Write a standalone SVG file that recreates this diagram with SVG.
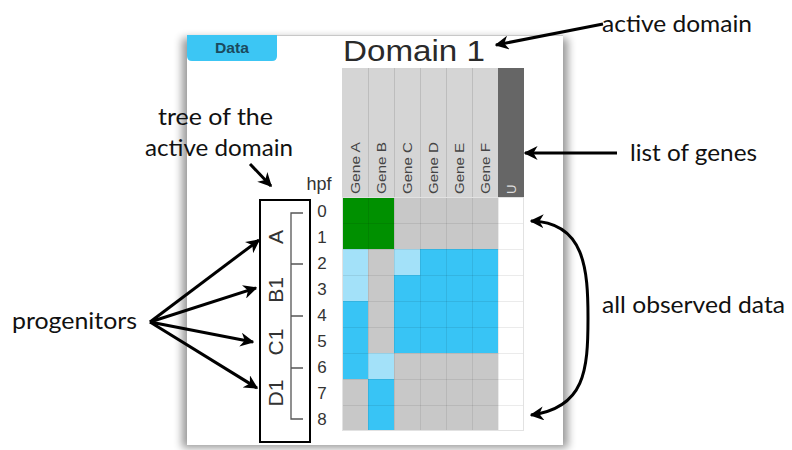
<svg xmlns="http://www.w3.org/2000/svg" width="792" height="450" viewBox="0 0 792 450">
<defs>
<filter id="sh" x="-10%" y="-10%" width="120%" height="120%"><feGaussianBlur stdDeviation="4"/></filter>
<marker id="ah2" viewBox="0 0 10 10" refX="9" refY="5" markerWidth="14" markerHeight="14" orient="auto-start-reverse" markerUnits="userSpaceOnUse"><path d="M0,0 L10,5 L0,10 L3,5 z" fill="#000"/></marker>
</defs>
<style>
.ann{font-family:Lato,"Open Sans",sans-serif;font-size:23px;fill:#111}
.gene{font-family:"Liberation Sans",Arial,sans-serif;font-size:13px;fill:#444}
.num{font-family:"Liberation Sans",Arial,sans-serif;font-size:17px;fill:#333;text-anchor:middle}
.tl{font-family:"Liberation Sans",Arial,sans-serif;font-size:21px;fill:#333;text-anchor:middle}
.g{fill:#c8c8c8}.gr{fill:#009000}.lb{fill:#a3e1f9}.b{fill:#38c4f5}.w{fill:#fff}
.cn{fill:none;stroke:#000;stroke-width:3;marker-end:url(#ah2)}
</style>
<rect width="792" height="450" fill="#fff"/>
<g id="panel">
<rect x="182" y="38" width="386" height="410" fill="#000" opacity="0.4" filter="url(#sh)"/>
<rect x="187" y="35" width="376" height="410" fill="#fff"/>
<line x1="187" y1="35.5" x2="563" y2="35.5" stroke="#c8c8c8" stroke-width="1"/>
</g>
<g id="data-button">
<path d="M187,35 H277 V56 Q277,61 272,61 H192 Q187,61 187,56 Z" fill="#3cc6f4"/>
<text x="232" y="53" font-family="'Liberation Sans',Arial,sans-serif" font-size="14" font-weight="bold" fill="#1b4a5e" text-anchor="middle" textLength="34" lengthAdjust="spacingAndGlyphs">Data</text>
</g>
<g id="title"><text x="343" y="61" font-family="'Liberation Sans',Arial,sans-serif" font-size="29" fill="#2a2a2a" textLength="142" lengthAdjust="spacingAndGlyphs">Domain 1</text></g>
<g id="header">
<rect x="342" y="68" width="156" height="129" fill="#d5d5d5"/>
<rect x="498" y="68" width="26" height="129" fill="#666"/>
<g stroke="#bdbdbd" stroke-width="1"><line x1="368.5" y1="68" x2="368.5" y2="197"/><line x1="394.5" y1="68" x2="394.5" y2="197"/><line x1="420.5" y1="68" x2="420.5" y2="197"/><line x1="446.5" y1="68" x2="446.5" y2="197"/><line x1="472.5" y1="68" x2="472.5" y2="197"/></g>
<text class="gene" transform="translate(360,194) rotate(-90)" textLength="52" lengthAdjust="spacingAndGlyphs">Gene A</text>
<text class="gene" transform="translate(386,194) rotate(-90)" textLength="52" lengthAdjust="spacingAndGlyphs">Gene B</text>
<text class="gene" transform="translate(412,194) rotate(-90)" textLength="52" lengthAdjust="spacingAndGlyphs">Gene C</text>
<text class="gene" transform="translate(438,194) rotate(-90)" textLength="52" lengthAdjust="spacingAndGlyphs">Gene D</text>
<text class="gene" transform="translate(464,194) rotate(-90)" textLength="51" lengthAdjust="spacingAndGlyphs">Gene E</text>
<text class="gene" transform="translate(490,194) rotate(-90)" textLength="51" lengthAdjust="spacingAndGlyphs">Gene F</text>
<text class="gene" transform="translate(516,194) rotate(-90)" style="fill:#ddd">U</text>
</g>
<g id="grid">
<rect x="342" y="197" width="182" height="234" class="g"/>
<rect x="342" y="197" width="52" height="52" class="gr"/>
<rect x="342" y="249" width="26" height="52" class="lb"/>
<rect x="394" y="249" width="26" height="26" class="lb"/>
<rect x="420" y="249" width="78" height="26" class="b"/>
<rect x="394" y="275" width="104" height="78" class="b"/>
<rect x="342" y="301" width="26" height="78" class="b"/>
<rect x="368" y="353" width="26" height="26" class="lb"/>
<rect x="368" y="379" width="26" height="52" class="b"/>
<rect x="498" y="197" width="26" height="234" class="w"/>
<g stroke="#000" stroke-opacity="0.08" stroke-width="1">
<line x1="368.5" y1="197" x2="368.5" y2="431"/><line x1="394.5" y1="197" x2="394.5" y2="431"/><line x1="420.5" y1="197" x2="420.5" y2="431"/><line x1="446.5" y1="197" x2="446.5" y2="431"/><line x1="472.5" y1="197" x2="472.5" y2="431"/><line x1="498.5" y1="197" x2="498.5" y2="431"/>
<line x1="342" y1="223.5" x2="524" y2="223.5"/><line x1="342" y1="249.5" x2="524" y2="249.5"/><line x1="342" y1="275.5" x2="524" y2="275.5"/><line x1="342" y1="301.5" x2="524" y2="301.5"/><line x1="342" y1="327.5" x2="524" y2="327.5"/><line x1="342" y1="353.5" x2="524" y2="353.5"/><line x1="342" y1="379.5" x2="524" y2="379.5"/><line x1="342" y1="405.5" x2="524" y2="405.5"/>
</g>
<rect x="342.5" y="197.5" width="181" height="233" fill="none" stroke="#e2e2e2"/>
</g>
<g id="hours">
<text x="319" y="190" font-family="'Liberation Sans',Arial,sans-serif" font-size="18" fill="#333" text-anchor="middle">hpf</text>
<text class="num" x="322" y="217">0</text><text class="num" x="322" y="243">1</text><text class="num" x="322" y="269">2</text><text class="num" x="322" y="295">3</text><text class="num" x="322" y="321">4</text><text class="num" x="322" y="347">5</text><text class="num" x="322" y="373">6</text><text class="num" x="322" y="399">7</text><text class="num" x="322" y="425">8</text>
</g>
<g id="tree">
<rect x="260" y="200" width="50" height="242" fill="none" stroke="#000" stroke-width="2"/>
<path d="M303,213 H291 V419 H303 M291,264 H303 M291,316 H303 M291,368 H303" fill="none" stroke="#555" stroke-width="1.3"/>
<text class="tl" transform="translate(283,237) rotate(-90)">A</text>
<text class="tl" transform="translate(283,290) rotate(-90)">B1</text>
<text class="tl" transform="translate(283,342) rotate(-90)">C1</text>
<text class="tl" transform="translate(283,393) rotate(-90)">D1</text>
</g>
<g id="labels">
<text class="ann" x="12" y="329" textLength="125" lengthAdjust="spacingAndGlyphs">progenitors</text>
<text class="ann" x="158" y="125" textLength="115" lengthAdjust="spacingAndGlyphs">tree of the</text>
<text class="ann" x="145" y="156" textLength="148" lengthAdjust="spacingAndGlyphs">active domain</text>
<text class="ann" x="602" y="32" textLength="150" lengthAdjust="spacingAndGlyphs">active domain</text>
<text class="ann" x="630" y="161" textLength="127" lengthAdjust="spacingAndGlyphs">list of genes</text>
<text class="ann" x="602" y="313" textLength="183" lengthAdjust="spacingAndGlyphs">all observed data</text>
</g>
<g id="connectors">
<line class="cn" x1="150" y1="322" x2="259" y2="240"/>
<line class="cn" x1="150" y1="322" x2="256" y2="288"/>
<line class="cn" x1="150" y1="322" x2="253" y2="342"/>
<line class="cn" x1="150" y1="322" x2="257" y2="388"/>
<line class="cn" x1="250" y1="164" x2="271" y2="186"/>
<line class="cn" x1="603" y1="24" x2="496" y2="45"/>
<line class="cn" x1="617" y1="153" x2="525" y2="153"/>
<path class="cn" style="marker-start:url(#ah2)" d="M531,221 C585,222 588,270 588,318 C588,370 585,408 531,415"/>
</g>
</svg>
